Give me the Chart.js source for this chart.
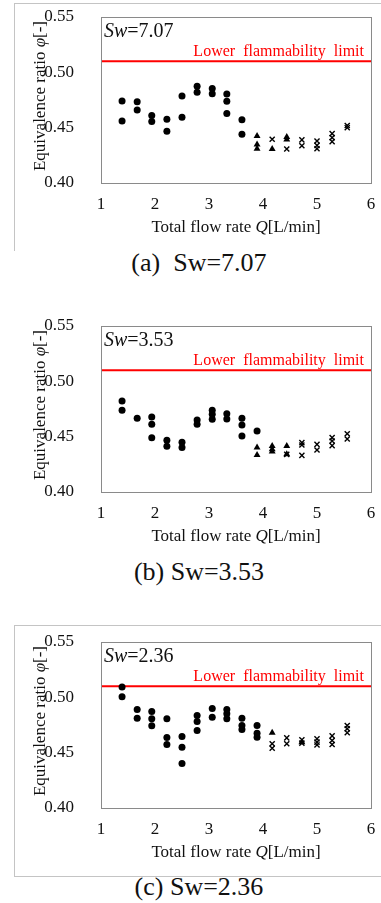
<!DOCTYPE html>
<html>
<head>
<meta charset="utf-8">
<script src="https://cdn.jsdelivr.net/npm/chart.js@4.4.0/dist/chart.umd.min.js"></script>
<style>
  body { margin: 0; background: #fff; width: 381px; height: 903px; position: relative; overflow: hidden; }
  canvas { position: absolute; left: 0; }
  .cap { position: absolute; left: 0; width: 398px; text-align: center; font-family: "Liberation Serif", serif; font-size: 26px; color: #111; white-space: pre; line-height: 30px; }
  .frame { position: absolute; left: 14px; width: 400px; border: 1px solid #c4c4c4; border-right: none; }
</style>
</head>
<body>
<div class="frame" style="top:3px; height:247px; border-bottom:none;"></div>
<div class="frame" style="top:625px; height:250px;"></div>

<canvas id="cA" width="381" height="240" style="top:0px"></canvas>
<canvas id="cB" width="381" height="240" style="top:309px"></canvas>
<canvas id="cC" width="381" height="240" style="top:625px"></canvas>

<div class="cap" style="top:248px">(a)  Sw=7.07</div>
<div class="cap" style="top:557px">(b) Sw=3.53</div>
<div class="cap" style="top:872px">(c) Sw=2.36</div>

<script>
// data: [Q (L/min), phi]
const lowerLimit = 0.51;
const xTicks = [1, 2, 3, 4, 5, 6];
const yTicks = [0.40, 0.45, 0.50, 0.55];

// Sw = 7.07
const sw707Circle = [[1.39,0.474],[1.39,0.456],[1.67,0.4735],[1.67,0.466],[1.94,0.461],[1.94,0.4555],
  [2.22,0.4575],[2.22,0.4467],[2.50,0.4786],[2.50,0.4593],[2.78,0.4874],[2.78,0.4819],[3.06,0.4853],[3.06,0.4807],
  [3.33,0.4804],[3.33,0.4738],[3.33,0.4627],[3.61,0.4572],[3.61,0.444]];
const sw707Tri = [[3.89,0.4425],[3.89,0.4347],[3.89,0.431],[4.17,0.4307],[4.44,0.4416],[4.44,0.4392]];
const sw707Cross = [[4.17,0.4395],[4.44,0.4307],[4.72,0.439],[4.72,0.4337],[5.00,0.438],[5.00,0.434],[5.00,0.431],
  [5.28,0.4446],[5.28,0.441],[5.28,0.4374],[5.56,0.452],[5.56,0.450]];

// Sw = 3.53
const sw353Circle = [[1.39,0.4822],[1.39,0.4738],[1.67,0.4666],[1.94,0.4678],[1.94,0.4612],[1.94,0.4491],
  [2.22,0.4467],[2.22,0.4413],[2.50,0.4449],[2.50,0.4401],[2.78,0.4651],[2.78,0.4612],[3.06,0.4738],[3.06,0.4702],
  [3.06,0.4657],[3.33,0.4708],[3.33,0.466],[3.61,0.4666],[3.61,0.4606],[3.61,0.4506],[3.89,0.4551]];
const sw353Tri = [[3.89,0.4401],[3.89,0.4334],[4.17,0.4416],[4.17,0.4386],[4.17,0.4365],[4.44,0.4416],[4.44,0.4341]];
const sw353Cross = [[4.44,0.434],[4.72,0.4446],[4.72,0.4425],[4.72,0.4331],[5.00,0.443],[5.00,0.438],
  [5.28,0.4491],[5.28,0.4461],[5.28,0.4419],[5.56,0.4527],[5.56,0.4479]];

// Sw = 2.36
const sw236Circle = [[1.39,0.5093],[1.39,0.5005],[1.67,0.489],[1.67,0.4812],[1.94,0.4872],[1.94,0.4806],[1.94,0.4743],
  [2.22,0.4806],[2.22,0.4637],[2.22,0.4574],[2.50,0.4646],[2.50,0.455],[2.50,0.4402],[2.78,0.4836],[2.78,0.4782],
  [2.78,0.47],[3.06,0.4899],[3.06,0.4821],[3.33,0.489],[3.33,0.4851],[3.33,0.4806],[3.61,0.4812],[3.61,0.4746],
  [3.61,0.4709],[3.89,0.4746],[3.89,0.4676],[3.89,0.464]];
const sw236Tri = [[4.17,0.468],[4.72,0.4595]];
const sw236Cross = [[4.17,0.458],[4.17,0.454],[4.44,0.4634],[4.44,0.458],[4.72,0.4616],[4.72,0.4586],
  [5.00,0.4625],[5.00,0.4595],[5.00,0.457],[5.28,0.4652],[5.28,0.461],[5.28,0.4574],[5.56,0.4746],[5.56,0.4716],[5.56,0.468]];

const SERIF = '"Liberation Serif", "Times New Roman", serif';

function toPts(arr) { return arr.map(p => ({ x: p[0], y: p[1] })); }

// draw text made of normal / italic pieces, centred on x
function drawParts(ctx, parts, x, y, size, color) {
  let total = 0;
  parts.forEach(p => { ctx.font = (p[1] ? 'italic ' : '') + size + 'px ' + SERIF; total += ctx.measureText(p[0]).width; });
  let cx = x - total / 2;
  ctx.fillStyle = color;
  ctx.textBaseline = 'middle';
  ctx.textAlign = 'left';
  parts.forEach(p => {
    ctx.font = (p[1] ? 'italic ' : '') + size + 'px ' + SERIF;
    ctx.fillText(p[0], cx, y);
    cx += ctx.measureText(p[0]).width;
  });
}

const decor = {
  id: 'decor',
  afterDraw(chart) {
    const ctx = chart.ctx, a = chart.chartArea;
    const yS = chart.scales.y;
    ctx.save();
    // plot frame
    ctx.strokeStyle = '#8a8a8a';
    ctx.lineWidth = 1;
    ctx.strokeRect(Math.round(a.left) + 0.5, Math.round(a.top) + 0.5, Math.round(a.right - a.left), Math.round(a.bottom - a.top));
    // Sw label
    ctx.textBaseline = 'middle';
    ctx.textAlign = 'left';
    ctx.fillStyle = '#111';
    ctx.font = 'italic 20px ' + SERIF;
    ctx.fillText('Sw', a.left + 3, a.top + 15);
    let w = ctx.measureText('Sw').width;
    ctx.font = '20px ' + SERIF;
    ctx.fillText('=' + chart.options.plugins.decor.sw, a.left + 3 + w, a.top + 15);
    // limit label
    ctx.font = '16px ' + SERIF;
    ctx.fillStyle = '#ff0000';
    ctx.textAlign = 'right';
    ctx.textBaseline = 'alphabetic';
    ctx.fillText('Lower  flammability  limit', a.right - 7, yS.getPixelForValue(lowerLimit) - 5);
    // axis titles
    drawParts(ctx, [['Total flow rate ', false], ['Q', true], ['[L/min]', false]], (a.left + a.right) / 2, a.bottom + 45, 17, '#111');
    ctx.translate(41, (a.top + a.bottom) / 2 - 4);
    ctx.rotate(-Math.PI / 2);
    drawParts(ctx, [['Equivalence ratio ', false], ['φ', true], ['[-]', false]], 0, 0, 17, '#111');
    ctx.restore();
  }
};

function makePanel(id, sw, circles, tris, crosses) {
  const ctx = document.getElementById(id);
  return new Chart(ctx, {
    type: 'scatter',
    data: {
      datasets: [{
        data: toPts(circles), pointStyle: 'circle', pointRadius: 3.5,
        backgroundColor: '#000', borderColor: '#000', borderWidth: 0
      }, {
        data: toPts(tris), pointStyle: 'triangle', pointRadius: 4,
        backgroundColor: '#000', borderColor: '#000', borderWidth: 0
      }, {
        data: toPts(crosses), pointStyle: 'crossRot', pointRadius: 3.6,
        backgroundColor: '#000', borderColor: '#000', borderWidth: 1.4
      }, {
        data: [{ x: xTicks[0], y: lowerLimit }, { x: xTicks[xTicks.length - 1], y: lowerLimit }],
        showLine: true, pointRadius: 0, borderColor: '#ff0000', borderWidth: 2.2
      }]
    },
    options: {
      responsive: false,
      animation: false,
      devicePixelRatio: 1,
      layout: { padding: { top: 17, right: 10, left: 0, bottom: 0 } },
      scales: {
        x: {
          type: 'linear', min: xTicks[0], max: xTicks[xTicks.length - 1],
          grid: { display: false }, border: { display: false },
          afterBuildTicks: s => { s.ticks = xTicks.map(v => ({ value: v })); },
          afterFit: s => { s.height = 57; s.paddingLeft = 0; s.paddingRight = 0; },
          ticks: { color: '#111', padding: 3, font: { family: SERIF, size: 17 } }
        },
        y: {
          type: 'linear', min: yTicks[0], max: yTicks[yTicks.length - 1],
          grid: { display: false }, border: { display: false },
          afterBuildTicks: s => { s.ticks = yTicks.map(v => ({ value: v })); },
          afterFit: s => { s.width = 101; s.paddingTop = 0; s.paddingBottom = 0; },
          ticks: { color: '#111', padding: 19, font: { family: SERIF, size: 17 }, callback: v => v.toFixed(2) }
        }
      },
      plugins: {
        legend: { display: false },
        tooltip: { enabled: false },
        decor: { sw: sw }
      }
    },
    plugins: [decor]
  });
}

makePanel('cA', '7.07', sw707Circle, sw707Tri, sw707Cross);
makePanel('cB', '3.53', sw353Circle, sw353Tri, sw353Cross);
makePanel('cC', '2.36', sw236Circle, sw236Tri, sw236Cross);
</script>
</body>
</html>
